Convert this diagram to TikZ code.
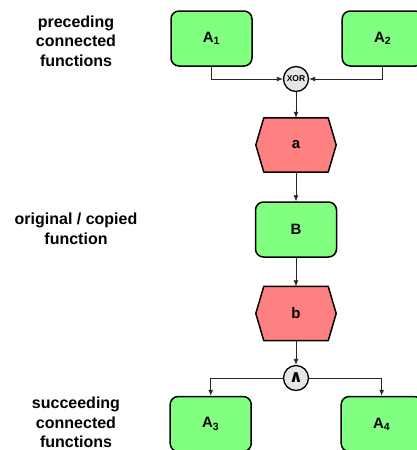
\documentclass[tikz,border=0pt]{standalone}
\usepackage{fontspec}
\setmainfont{Liberation Sans}
\newfontfamily\djv{DejaVu Sans}
\usetikzlibrary{arrows.meta,backgrounds}
\definecolor{fgreen}{HTML}{80FF80}
\definecolor{ered}{HTML}{FF8080}
\definecolor{cgray}{HTML}{E6E6E6}
\begin{document}
\begin{tikzpicture}[x=1pt,y=-1pt,
 func/.style={draw, line width=1.5pt, rounded corners=8pt, fill=fgreen, minimum width=81pt, minimum height=55pt, inner sep=0pt, font=\fontsize{15}{18}\selectfont\bfseries},
 evt/.style={rectangle, minimum width=80pt, minimum height=54pt, inner sep=0pt, font=\fontsize{15}{18}\selectfont\bfseries},
 hexa/.style={draw, line width=1.5pt, fill=ered, line join=round},
 conn/.style={circle, draw, line width=1.3pt, fill=cgray, minimum size=25pt, inner sep=0pt},
 arr/.style={line width=0.8pt, draw=black!85, -{Latex[length=6pt,width=5pt]}},
 lbl/.style={align=center, font=\fontsize{16}{19.7}\selectfont\bfseries}
]
\useasboundingbox (0,0) rectangle (417,450);
\node[lbl] (l1) at (76,41) {preceding\\connected\\functions};
\node[lbl] (l2) at (76,228.5) {original / copied\\function};
\node[lbl] (l3) at (76,422.5) {succeeding\\connected\\functions};
\node[func] (A1) at (211.5,38.5) {A\textsubscript{1}};
\node[func] (A2) at (382.7,38.5) {A\textsubscript{2}};
\node[conn, font=\fontsize{8.5}{10}\selectfont\bfseries] (xor) at (296,79) {XOR};
\node[evt] (a) at (296,145) {a};
\node[func] (B) at (296,229.5) {B};
\node[evt] (b) at (296,313.5) {b};
\node[conn, font=\djv\fontsize{17}{18}\selectfont\bfseries] (and) at (296,378) {∧};
\node[func] (A3) at (210.7,424) {A\textsubscript{3}};
\node[func] (A4) at (381.7,424) {A\textsubscript{4}};
\begin{scope}[on background layer]
\foreach \h in {a,b}{
  \filldraw[hexa] (\h.west) -- ([xshift=8pt]\h.north west) -- ([xshift=-8pt]\h.north east) -- (\h.east) -- ([xshift=-8pt]\h.south east) -- ([xshift=8pt]\h.south west) -- cycle;
}
\end{scope}
\draw[arr] (A1.south) |- (xor.west);
\draw[arr] (A2.south) |- (xor.east);
\draw[arr] (xor.south) -- (a.north);
\draw[arr] (a.south) -- (B.north);
\draw[arr] (B.south) -- (b.north);
\draw[arr] (b.south) -- (and.north);
\draw[arr] (and.west) -| (A3.north);
\draw[arr] (and.east) -| (A4.north);
\end{tikzpicture}
\end{document}
